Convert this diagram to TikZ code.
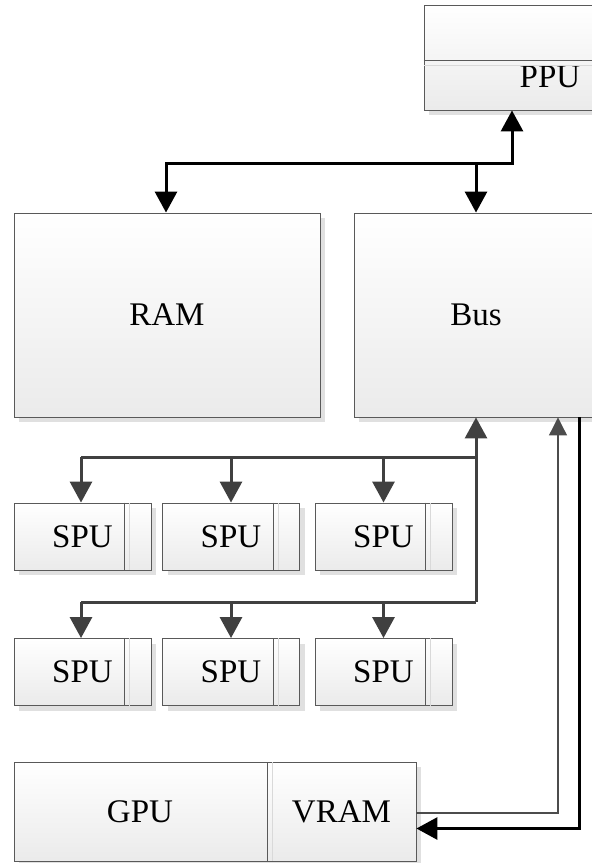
\documentclass[tikz,border=0pt]{standalone}
\usepackage{fontspec}
\setmainfont{Liberation Serif}
\usetikzlibrary{arrows.meta,shadows}

\tikzset{
  block/.style={draw=black!65, line width=0.9pt, inner sep=0pt,
    top color=white, bottom color=black!8,
    drop shadow={shadow xshift=5pt, shadow yshift=-5pt, fill=black!12, opacity=1},
    font=\fontsize{33}{36}\selectfont},
  divider/.style={draw=black!65, line width=0.9pt},
  ghost/.style={draw=black!15, line width=0.9pt},
  heavy/.style={draw=black, line width=3pt},
  busline/.style={draw=black!75, line width=3pt},
  fine/.style={draw=black!70, line width=1.1pt},
  bigtip/.tip={Triangle[length=21pt,width=22pt]},
  smalltip/.tip={Triangle[length=18pt,width=18pt]},
}

\begin{document}
\begin{tikzpicture}[x=1pt,y=-1pt]
\useasboundingbox (0,0) rectangle (592,863);

% processor element at the top
\node[block, minimum width=252pt, minimum height=105pt] (ppu) at (550,57.5) {};
\node[font=\fontsize{33}{36}\selectfont] (ppulabel) at (550,77) {PPU};
\draw[ghost] (ppu.west |- 0,65) -- (ppu.east |- 0,65);
\draw[divider] (ppu.west |- 0,60) -- (ppu.east |- 0,60);

% memory and bus
\node[block, minimum width=306pt, minimum height=204pt] (ram) at (167,315) {RAM};
\node[block, minimum width=244pt, minimum height=204pt] (bus) at (476,315) {Bus};

% two rows of SPUs
\foreach \r/\y in {1/536.5, 2/672} {
  \foreach \c/\x in {1/82.5, 2/231, 3/383.5} {
    \node[block, minimum width=137pt, minimum height=67pt] (s\r\c) at (\x,\y) {};
    \draw[ghost] ([xshift=-22pt]s\r\c.north east) -- ([xshift=-22pt]s\r\c.south east);
    \draw[divider] ([xshift=-27pt]s\r\c.north east) -- ([xshift=-27pt]s\r\c.south east);
    \node[font=\fontsize{33}{36}\selectfont] (s\r\c label) at (\x,\y) {SPU};
  }
}

% graphics unit with its video memory
\node[block, minimum width=402pt, minimum height=99pt] (gpuvram) at (215,811.5) {};
\draw[ghost] (272,762) -- (272,861);
\draw[divider] (267,762) -- (267,861);
\node[font=\fontsize{33}{36}\selectfont] (gpu) at (140,811.5) {GPU};
\node[font=\fontsize{33}{36}\selectfont] (vram) at (341.5,811.5) {VRAM};

% junction points of the connectors
\coordinate (top) at (0,163);
\coordinate (ppux) at (512,0);
\coordinate (ramx) at (166,0);
\coordinate (busx) at (476,0);
\coordinate (row1) at (0,457);
\coordinate (row2) at (0,602);
\coordinate (roww) at (81,0);
\coordinate (thinx) at (558,0);
\coordinate (thickx) at (579,0);

% RAM <-> PPU, branch to the bus
\draw[heavy, {bigtip}-{bigtip}] (ram.north -| ramx) |- (top -| ppux) -- (ppu.south -| ppux);
\draw[heavy, -{bigtip}] (top -| busx) -- (bus.north -| busx);

% bus to the SPU rows
\draw[busline, -{bigtip}] (row2 -| busx) -- (bus.south -| busx);
\draw[busline] (row1 -| roww) -- (row1 -| busx);
\draw[busline] (row2 -| roww) -- (row2 -| busx);
\draw[busline, -{bigtip}] (row1 -| roww) -- (s11.north -| roww);
\draw[busline, -{bigtip}] (row1 -| s12.north) -- (s12.north);
\draw[busline, -{bigtip}] (row1 -| s13.north) -- (s13.north);
\draw[busline, -{bigtip}] (row2 -| roww) -- (s21.north -| roww);
\draw[busline, -{bigtip}] (row2 -| s22.north) -- (s22.north);
\draw[busline, -{bigtip}] (row2 -| s23.north) -- (s23.north);

% VRAM <-> bus
\draw[fine, -{smalltip}] ([yshift=-1.5pt]gpuvram.east) -| (bus.south -| thinx);
\draw[heavy, -{bigtip}] (bus.south -| thickx) |- ([yshift=-17pt]gpuvram.east);
\end{tikzpicture}
\end{document}
